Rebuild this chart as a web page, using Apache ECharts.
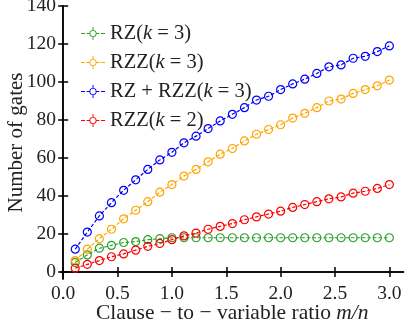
<!DOCTYPE html>
<html><head><meta charset="utf-8">
<script src="https://cdn.jsdelivr.net/npm/echarts@6/dist/echarts.min.js"></script>
<style>html,body{margin:0;padding:0;background:#fff}#c{width:405px;height:330px}</style>
</head><body><div id="c"></div>
<script>
const ratios = [0.111,0.222,0.333,0.444,0.556,0.667,0.778,0.889,1.0,1.111,1.222,1.333,1.444,1.556,1.667,1.778,1.889,2.0,2.111,2.222,2.333,2.444,2.556,2.667,2.778,2.889,3.0];
const rz3 = [5,9,12.5,14,15.5,16,17,17.5,18,18,18,18,18,18,18,18,18,18,18,18,18,18,18,18,18,18,18];
const rzz3 = [6,12,17.5,22.5,28,32.5,37,42,46,50.5,54,58,62,65,69,72.5,75,77.5,81,83.5,86.5,90,91,94,96,98,101];
const rzPlusRzz3 = [12,21,29.5,36.5,43,48.5,54,59,63,68,71.5,75.5,79.5,83,86.5,90.5,92.5,96,99,101.5,104.5,108,109,112.5,113.5,116,119];
const rzz2 = [2,4,6,8,9.5,11.5,13.5,15,17,19,20.5,22.5,24,25.5,27.5,29,30.5,32,34,35.5,37,38.5,39.5,41.5,42.5,44,46];
const xTicks = [0,0.5,1.0,1.5,2.0,2.5,3.0];
const yTicks = [0,20,40,60,80,100,120,140];
const seriesNames = ['RZ(k=3)','RZZ(k=3)','RZ+RZZ(k=3)','RZZ(k=2)'];
const legendLabels = [['RZ(','k',' = 3)'],['RZZ(','k',' = 3)'],['RZ + RZZ(','k',' = 3)'],['RZZ(','k',' = 2)']];
const colors = ['#2ca02c','#ffa500','#0000ff','#ff0000'];
const values = [rz3, rzz3, rzPlusRzz3, rzz2];

const FONT = 'Liberation Serif';
const icon = 'path://M0 7.4H5V8.6H0Z M7 7.4H10.5V8.6H7Z M19.5 7.4H23V8.6H19.5Z M25 7.4H30V8.6H25Z M14.4 0H15.6V3.5H14.4Z M14.4 12.5H15.6V16H14.4Z M19.5 8A4.5 4.5 0 1 1 10.5 8A4.5 4.5 0 1 1 19.5 8Z M18.3 8A3.3 3.3 0 1 0 11.7 8A3.3 3.3 0 1 0 18.3 8Z';

const chart = echarts.init(document.getElementById('c'));
const axisLine = {show:true, lineStyle:{color:'#000', width:1.5}};
const tickStyle = {lineStyle:{color:'#000', width:1.5}};
const txt = '#222';
const option = {
  animation:false,
  grid:{left:61, right:1.5, top:6, bottom:51, containLabel:false, outerBoundsMode:'none'},
  legend:{
    orient:'vertical', left:76, top:18, itemWidth:24, itemHeight:18, itemGap:8,
    data: seriesNames.map((n,i)=>({name:n, icon:icon, itemStyle:{color:colors[i], borderWidth:0}})),
    formatter: function(name){ const l = legendLabels[seriesNames.indexOf(name)]; return '{r|'+l[0]+'}{i|'+l[1]+'}{r|'+l[2]+'}'; },
    textStyle:{rich:{r:{fontFamily:FONT,fontSize:20.5,color:txt,lineHeight:20}, i:{fontFamily:FONT,fontSize:20.5,fontStyle:'italic',color:txt,lineHeight:20}}}
  },
  xAxis:[
    {type:'value', position:'bottom', min:-0.02, max:3.13, axisLine:axisLine, splitLine:{show:false},
     axisTick:Object.assign({inside:true, length:5, customValues:xTicks}, tickStyle),
     axisLabel:{customValues:xTicks, formatter:v=>v.toFixed(1), fontFamily:FONT, fontSize:19.5, color:txt, margin:5},
     name:'{r|Clause − to − variable ratio }{i|m/n}', nameLocation:'middle', nameGap:23, nameMoveOverlap:false,
     nameTextStyle:{rich:{r:{fontFamily:FONT,fontSize:21.5,color:txt}, i:{fontFamily:FONT,fontSize:21.5,fontStyle:'italic',color:txt}}}},
    {type:'value', position:'top', min:-0.02, max:3.13, axisLine:axisLine, splitLine:{show:false},
     axisTick:Object.assign({inside:true, length:5, customValues:xTicks}, tickStyle), axisLabel:{show:false}}
  ],
  yAxis:[
    {type:'value', position:'left', min:-3.7, max:140, axisLine:axisLine, splitLine:{show:false},
     axisTick:Object.assign({inside:true, length:5, customValues:yTicks}, tickStyle),
     axisLabel:{customValues:yTicks, fontFamily:FONT, fontSize:19.5, color:txt, margin:5},
     name:'Number of gates', nameLocation:'middle', nameGap:34, nameMoveOverlap:false,
     nameTextStyle:{fontFamily:FONT, fontSize:21, color:txt}},
    {type:'value', position:'right', min:-3.7, max:140, axisLine:axisLine, splitLine:{show:false},
     axisTick:Object.assign({inside:true, length:5, customValues:yTicks}, tickStyle), axisLabel:{show:false}}
  ],
  series: seriesNames.map((n,i)=>({
    name:n, type:'line', xAxisIndex:0, yAxisIndex:0,
    data: ratios.map((x,j)=>[x, values[i][j]]),
    symbol:'circle', symbolSize:8,
    itemStyle:{color:'rgba(255,255,255,0)', borderColor:colors[i], borderWidth:1.2},
    lineStyle:{color:colors[i], width:1.2, type:[3.5,2]},
    z: 2+i
  }))
};
chart.setOption(option);
</script></body></html>
